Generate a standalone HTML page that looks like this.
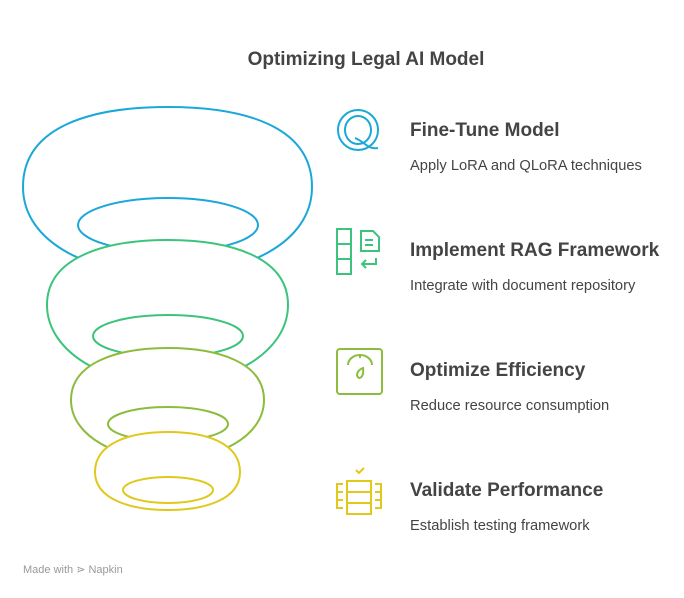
<!DOCTYPE html>
<html><head><meta charset="utf-8"><style>
body{margin:0;width:684px;height:598px;background:#fff;overflow:hidden;font-family:"Liberation Sans",sans-serif;position:relative}
.t{position:absolute;white-space:nowrap}
.h{font-weight:bold;font-size:19px;color:#444}
.s{font-size:14.7px;color:#444}
</style></head><body>
<svg width="684" height="598" style="position:absolute;left:0;top:0" fill="none" stroke-width="2">
<g stroke="#1ba8d8"><path fill="#fff" d="M23,187 C23,126 92,107 168,107 C244,107 312,126 312,187 C312,243 245,275 168,275 C91,275 23,243 23,187Z"/><ellipse cx="168" cy="225" rx="90" ry="27"/></g>
<g stroke="#3cc47c"><path fill="#fff" d="M47,305 C47,256 108,240 168,240 C228,240 288,256 288,305 C288,353 228,385 168,385 C108,385 47,353 47,305Z"/><ellipse cx="168" cy="336" rx="75" ry="21"/></g>
<g stroke="#8cbc3c"><path fill="#fff" d="M71,400 C71,362 119,348 168,348 C217,348 264,362 264,400 C264,437 217,460 168,460 C119,460 71,437 71,400Z"/><ellipse cx="168" cy="424" rx="60" ry="17"/></g>
<g stroke="#e0c81c"><path fill="#fff" d="M95,472 C95,443 130,432 168,432 C206,432 240,443 240,472 C240,499 206,510 168,510 C130,510 95,499 95,472Z"/><ellipse cx="168" cy="490" rx="45" ry="13"/></g>
<g stroke="#1ba8d8"><ellipse cx="358" cy="130" rx="20" ry="20"/><ellipse cx="358" cy="130" rx="13" ry="14"/><path d="M355,138 C365,142 368,150 378,148"/></g>
<g stroke="#3cc47c"><rect x="337" y="229" width="14" height="45"/><line x1="337" y1="244" x2="351" y2="244"/><line x1="337" y1="259" x2="351" y2="259"/><path d="M361,231 h12 l6,6 v14 h-18z"/><path d="M365,240h8M365,245h8"/><path d="M376,258 v6 h-14 m4,-4 l-4,4 4,4"/></g>
<g stroke="#8cbc3c"><rect x="337" y="349" width="45" height="45" rx="3"/><path d="M348,365 a12,10 0 0 1 24,0"/><path d="M360,355v3M359,378 c-3,-2 -3,-7 4,-10 c1,6 -1,10 -4,10z"/></g>
<g stroke="#e0c81c"><rect x="347" y="481" width="24" height="33"/><path d="M347,492h24M347,503h24M343,484h-6v8h6M337,492v8h6M337,500v8h6M375,484h6v8h-6M381,492v8h-6M381,500v8h-6M356,470l3,3 5,-5"/></g>
</svg>
<div class="t h" style="left:0;width:732px;text-align:center;top:49px">Optimizing Legal AI Model</div>
<div class="t h" style="left:410px;top:120px">Fine-Tune Model</div>
<div class="t s" style="left:410px;top:158px">Apply LoRA and QLoRA techniques</div>
<div class="t h" style="left:410px;top:240px">Implement RAG Framework</div>
<div class="t s" style="left:410px;top:278px">Integrate with document repository</div>
<div class="t h" style="left:410px;top:360px">Optimize Efficiency</div>
<div class="t s" style="left:410px;top:398px">Reduce resource consumption</div>
<div class="t h" style="left:410px;top:480px">Validate Performance</div>
<div class="t s" style="left:410px;top:518px">Establish testing framework</div>
<div class="t" style="left:23px;top:563px;font-size:11px;color:#999">Made with ⋗ Napkin</div>
</body></html>
